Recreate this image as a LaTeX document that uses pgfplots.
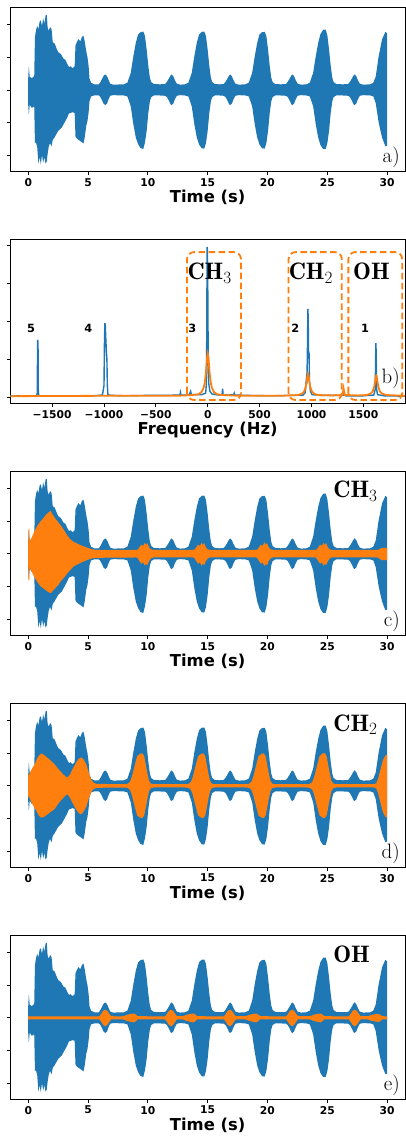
\documentclass[border=0pt]{standalone}
\usepackage{pgfplots}
\pgfplotsset{compat=1.18}
\usepgfplotslibrary{fillbetween}
\usepackage{pgfplotstable}
\usepackage{fontspec}
\newfontfamily\dvs{DejaVu Sans}
\definecolor{tabblue}{HTML}{1F77B4}
\definecolor{taborange}{HTML}{FF7F0E}

% blue: full measured signal (envelope: upper / lower)
\pgfplotstableread{
t up lo
0.00 0.37 -0.48
0.05 0.73 -0.77
0.12 0.40 -0.45
0.30 0.36 -0.55
0.50 0.42 -0.50
0.56 1.60 -1.62
0.65 1.82 -1.60
0.75 1.95 -1.75
0.85 1.85 -2.25
0.95 2.08 -2.05
1.05 2.12 -2.27
1.15 1.95 -1.98
1.25 2.18 -2.22
1.35 2.02 -2.05
1.45 2.27 -2.25
1.55 2.29 -2.18
1.62 1.90 -1.95
1.72 1.80 -1.72
1.82 1.92 -1.62
1.95 1.85 -1.72
2.05 1.45 -1.52
2.20 1.42 -1.45
2.35 1.28 -1.35
2.50 1.15 -1.25
2.65 1.12 -1.20
2.80 1.05 -1.15
2.95 0.95 -1.05
3.10 0.92 -0.95
3.25 0.80 -0.85
3.40 0.70 -0.72
3.55 0.72 -0.70
3.70 0.66 -0.68
3.88 0.72 -0.70
3.95 1.35 -1.42
4.05 1.45 -1.48
4.20 1.55 -1.52
4.35 1.48 -1.56
4.50 1.62 -1.60
4.62 1.65 -1.63
4.72 1.48 -1.45
4.85 1.18 -1.10
4.95 1.00 -0.95
5.05 0.72 -0.68
5.12 0.35 -0.35
5.25 0.22 -0.20
5.50 0.17 -0.17
5.90 0.17 -0.17
6.00 0.22 -0.20
6.15 0.32 -0.30
6.30 0.43 -0.42
6.44 0.47 -0.46
6.58 0.42 -0.42
6.72 0.30 -0.28
6.85 0.19 -0.18
7.10 0.16 -0.16
8.00 0.17 -0.17
8.29 0.22 -0.20
8.57 0.52 -0.50
8.79 1.03 -1.05
8.99 1.43 -1.45
9.18 1.69 -1.65
9.40 1.76 -1.78
9.62 1.78 -1.80
9.76 1.64 -1.60
9.90 1.23 -1.25
10.04 0.73 -0.70
10.17 0.37 -0.35
10.28 0.24 -0.22
10.50 0.18 -0.17
11.00 0.17 -0.17
11.45 0.18 -0.18
11.60 0.25 -0.22
11.75 0.34 -0.32
11.90 0.44 -0.44
11.98 0.47 -0.46
12.12 0.42 -0.42
12.27 0.29 -0.28
12.42 0.19 -0.18
12.70 0.16 -0.16
13.10 0.17 -0.17
13.39 0.22 -0.20
13.67 0.52 -0.50
13.89 1.03 -1.05
14.09 1.43 -1.45
14.28 1.69 -1.66
14.50 1.77 -1.78
14.72 1.78 -1.79
14.86 1.64 -1.62
15.00 1.23 -1.25
15.14 0.73 -0.70
15.27 0.37 -0.35
15.38 0.24 -0.22
15.60 0.18 -0.17
16.00 0.17 -0.17
16.35 0.18 -0.18
16.50 0.25 -0.22
16.65 0.34 -0.32
16.80 0.44 -0.44
16.88 0.47 -0.46
17.02 0.42 -0.42
17.17 0.29 -0.28
17.32 0.19 -0.18
17.60 0.16 -0.16
18.15 0.17 -0.17
18.44 0.22 -0.20
18.72 0.52 -0.50
18.94 1.03 -1.05
19.14 1.43 -1.45
19.33 1.69 -1.66
19.55 1.76 -1.78
19.77 1.77 -1.79
19.91 1.64 -1.62
20.05 1.23 -1.25
20.19 0.73 -0.70
20.32 0.37 -0.35
20.43 0.24 -0.22
20.65 0.18 -0.17
21.10 0.17 -0.17
21.55 0.18 -0.18
21.70 0.25 -0.22
21.85 0.34 -0.32
22.00 0.44 -0.44
22.08 0.47 -0.46
22.22 0.42 -0.42
22.37 0.29 -0.28
22.52 0.19 -0.18
22.80 0.16 -0.16
23.25 0.17 -0.17
23.54 0.22 -0.20
23.82 0.52 -0.50
24.04 1.03 -1.05
24.24 1.43 -1.45
24.43 1.70 -1.68
24.65 1.83 -1.80
24.87 1.84 -1.80
25.01 1.66 -1.62
25.15 1.23 -1.25
25.29 0.73 -0.70
25.42 0.37 -0.35
25.53 0.24 -0.22
25.75 0.18 -0.17
26.30 0.17 -0.17
26.75 0.18 -0.18
26.90 0.25 -0.22
27.05 0.34 -0.32
27.20 0.44 -0.44
27.28 0.47 -0.46
27.42 0.42 -0.42
27.57 0.29 -0.28
27.72 0.19 -0.18
28.00 0.16 -0.16
28.60 0.17 -0.17
28.85 0.22 -0.20
29.05 0.40 -0.40
29.30 1.03 -1.00
29.58 1.54 -1.45
29.86 1.77 -1.72
30.00 1.72 -1.70
}\bluesig

% orange, CH3 component
\pgfplotstableread{
t up lo
0.00 0.35 -0.40
0.02 0.75 -0.80
0.09 0.75 -0.80
0.11 0.40 -0.42
0.30 0.50 -0.55
0.50 0.68 -0.70
0.75 0.85 -0.85
1.00 0.98 -0.98
1.25 1.08 -1.05
1.50 1.20 -1.12
1.75 1.28 -1.18
1.88 1.31 -1.20
2.00 1.22 -1.15
2.25 1.08 -1.05
2.50 0.97 -0.95
2.75 0.85 -0.82
3.00 0.72 -0.72
3.25 0.57 -0.60
3.50 0.45 -0.50
3.75 0.38 -0.40
4.00 0.33 -0.34
4.35 0.27 -0.28
4.70 0.22 -0.22
5.00 0.18 -0.18
5.30 0.14 -0.14
5.70 0.12 -0.12
9.05 0.12 -0.11
9.15 0.13 -0.13
9.30 0.20 -0.22
9.45 0.28 -0.30
9.60 0.24 -0.26
9.75 0.34 -0.36
9.85 0.27 -0.30
9.95 0.33 -0.35
10.10 0.20 -0.22
10.25 0.14 -0.14
10.45 0.12 -0.11
13.80 0.12 -0.11
13.90 0.13 -0.13
14.05 0.20 -0.22
14.20 0.28 -0.30
14.35 0.24 -0.26
14.50 0.34 -0.36
14.60 0.27 -0.30
14.70 0.33 -0.35
14.85 0.20 -0.22
15.00 0.14 -0.14
15.20 0.12 -0.11
19.05 0.12 -0.11
19.15 0.13 -0.13
19.30 0.20 -0.22
19.45 0.28 -0.30
19.60 0.24 -0.26
19.75 0.36 -0.37
19.85 0.27 -0.30
19.95 0.33 -0.35
20.10 0.20 -0.22
20.25 0.14 -0.14
20.45 0.12 -0.11
24.00 0.12 -0.11
24.10 0.13 -0.13
24.25 0.20 -0.22
24.40 0.28 -0.30
24.55 0.24 -0.26
24.70 0.34 -0.36
24.80 0.27 -0.30
24.90 0.33 -0.35
25.05 0.20 -0.22
25.20 0.14 -0.14
25.40 0.12 -0.11
29.20 0.12 -0.11
29.30 0.13 -0.13
29.45 0.16 -0.17
29.60 0.19 -0.20
29.75 0.17 -0.18
29.88 0.19 -0.20
30.00 0.17 -0.18
}\orchthree

% orange, CH2 component
\pgfplotstableread{
t up lo
0.00 0.38 -0.35
0.03 0.30 -0.30
0.20 0.45 -0.45
0.40 0.58 -0.60
0.55 0.66 -0.68
0.70 0.80 -0.78
0.85 0.90 -0.88
1.00 0.96 -0.95
1.10 0.99 -0.97
1.30 0.95 -0.95
1.50 0.89 -0.90
1.85 0.78 -0.80
2.20 0.66 -0.71
2.55 0.50 -0.52
2.90 0.36 -0.38
3.15 0.28 -0.28
3.30 0.26 -0.26
3.50 0.35 -0.37
3.70 0.51 -0.52
4.00 0.70 -0.72
4.20 0.82 -0.82
4.40 0.87 -0.87
4.60 0.82 -0.80
4.85 0.66 -0.64
5.05 0.42 -0.40
5.25 0.20 -0.20
5.45 0.10 -0.10
5.70 0.06 -0.06
8.00 0.05 -0.05
8.30 0.06 -0.06
8.50 0.12 -0.12
8.65 0.26 -0.26
8.85 0.55 -0.56
9.10 0.90 -0.90
9.35 0.98 -0.97
9.55 0.99 -0.98
9.70 0.90 -0.90
9.82 0.66 -0.68
9.95 0.40 -0.42
10.10 0.15 -0.16
10.25 0.07 -0.07
10.50 0.05 -0.05
13.10 0.05 -0.05
13.40 0.06 -0.06
13.60 0.12 -0.12
13.75 0.26 -0.26
13.95 0.55 -0.56
14.20 0.90 -0.90
14.45 0.98 -0.97
14.65 0.99 -0.98
14.80 0.90 -0.90
14.92 0.66 -0.68
15.05 0.40 -0.42
15.20 0.15 -0.16
15.35 0.07 -0.07
15.60 0.05 -0.05
18.15 0.05 -0.05
18.45 0.06 -0.06
18.65 0.12 -0.12
18.80 0.26 -0.26
19.00 0.55 -0.56
19.25 0.90 -0.90
19.50 0.98 -0.97
19.70 0.99 -0.98
19.85 0.90 -0.90
19.97 0.66 -0.68
20.10 0.40 -0.42
20.25 0.15 -0.16
20.40 0.07 -0.07
20.65 0.05 -0.05
23.25 0.05 -0.05
23.55 0.06 -0.06
23.75 0.12 -0.12
23.90 0.26 -0.26
24.10 0.55 -0.56
24.35 0.90 -0.90
24.60 0.99 -0.97
24.80 1.00 -0.98
24.95 0.90 -0.90
25.07 0.66 -0.68
25.20 0.40 -0.42
25.35 0.15 -0.16
25.50 0.07 -0.07
25.75 0.05 -0.05
28.90 0.05 -0.05
29.10 0.08 -0.08
29.25 0.22 -0.22
29.45 0.50 -0.52
29.65 0.78 -0.80
29.85 0.92 -0.94
30.00 0.95 -0.97
}\orchtwo

% orange, OH component
\pgfplotstableread{
t up lo
0.00 0.045 -0.045
5.90 0.045 -0.045
5.95 0.05 -0.05
6.10 0.12 -0.12
6.25 0.21 -0.21
6.44 0.25 -0.26
6.62 0.21 -0.21
6.78 0.12 -0.12
6.93 0.05 -0.05
7.60 0.045 -0.045
7.95 0.05 -0.05
8.25 0.09 -0.09
8.55 0.12 -0.12
8.85 0.13 -0.14
9.00 0.10 -0.10
9.15 0.05 -0.05
11.40 0.045 -0.045
11.45 0.05 -0.05
11.60 0.12 -0.12
11.75 0.21 -0.21
11.94 0.25 -0.26
12.12 0.21 -0.21
12.28 0.12 -0.12
12.43 0.05 -0.05
12.92 0.05 -0.05
13.22 0.09 -0.09
13.52 0.12 -0.12
13.82 0.13 -0.14
13.97 0.10 -0.10
14.12 0.05 -0.05
16.32 0.045 -0.045
16.37 0.05 -0.05
16.52 0.12 -0.12
16.67 0.21 -0.21
16.86 0.25 -0.26
17.04 0.21 -0.21
17.20 0.12 -0.12
17.35 0.05 -0.05
18.18 0.05 -0.05
18.48 0.09 -0.09
18.78 0.12 -0.12
19.08 0.13 -0.14
19.23 0.10 -0.10
19.38 0.05 -0.05
21.52 0.045 -0.045
21.57 0.05 -0.05
21.72 0.12 -0.12
21.87 0.21 -0.21
22.06 0.25 -0.26
22.24 0.21 -0.21
22.40 0.12 -0.12
22.55 0.05 -0.05
23.55 0.05 -0.05
23.85 0.09 -0.09
24.15 0.12 -0.12
24.45 0.13 -0.14
24.60 0.10 -0.10
24.75 0.05 -0.05
26.76 0.045 -0.045
26.81 0.05 -0.05
26.96 0.12 -0.12
27.11 0.21 -0.21
27.30 0.25 -0.26
27.48 0.21 -0.21
27.64 0.12 -0.12
27.79 0.05 -0.05
28.40 0.05 -0.05
28.70 0.09 -0.09
29.00 0.11 -0.11
29.30 0.12 -0.13
29.45 0.09 -0.09
29.60 0.05 -0.05
30.00 0.045 -0.045
}\oroh

% spectrum, full signal
\pgfplotstableread{
f a
-1903 0.02
-1800 0.03
-1700 0.02
-1652 0.03
-1643 0.10
-1640 1.51
-1636 1.45
-1633 0.12
-1627 0.03
-1500 0.02
-1300 0.03
-1100 0.03
-1015 0.05
-1000 0.30
-995 1.60
-991 1.95
-987 1.85
-982 1.50
-977 1.20
-972 1.00
-968 0.30
-962 0.05
-900 0.04
-800 0.03
-600 0.04
-400 0.04
-300 0.05
-268 0.05
-263 0.12
-258 0.05
-180 0.05
-165 0.15
-158 0.06
-60 0.06
-20 0.10
-12 0.40
-6 3.97
-3 3.85
0 3.00
4 1.20
10 0.35
20 0.15
40 0.08
100 0.05
138 0.06
143 0.22
148 0.06
200 0.05
250 0.06
255 0.10
260 0.05
400 0.04
600 0.03
800 0.04
920 0.05
940 0.12
950 0.45
955 0.35
960 1.10
965 2.33
968 2.10
972 1.05
976 1.20
980 0.40
990 0.15
1005 0.06
1100 0.04
1300 0.04
1320 0.07
1330 0.03
1500 0.03
1600 0.05
1614 0.20
1620 1.42
1623 1.20
1627 0.20
1637 0.06
1700 0.03
1901 0.02
}\specfull

% spectrum, filtered components
\pgfplotstableread{
f a
-1903 0.02
-1000 0.03
-300 0.03
-150 0.05
-90 0.07
-60 0.13
-40 0.24
-30 0.36
-20 0.58
-15 0.74
-10 0.92
-5 1.08
0 1.15
5 1.08
10 0.92
15 0.74
20 0.58
30 0.36
40 0.24
60 0.13
90 0.07
150 0.05
300 0.03
700 0.03
870 0.05
910 0.09
930 0.15
945 0.28
955 0.45
960 0.55
966 0.61
972 0.55
977 0.45
987 0.28
1002 0.15
1022 0.09
1060 0.05
1200 0.04
1295 0.05
1303 0.12
1309 0.22
1315 0.12
1323 0.05
1450 0.04
1530 0.05
1570 0.09
1590 0.15
1605 0.28
1615 0.45
1620 0.55
1624 0.57
1628 0.55
1633 0.45
1643 0.28
1658 0.15
1678 0.09
1720 0.05
1901 0.03
}\specfilt

\pgfplotsset{
  base/.style={
    scale only axis, width=396bp, height=164.5bp,
    anchor=north west,
    axis line style={black, line width=0.8bp},
    tick align=outside, tick pos=left,
    major tick length=3.5bp,
    tick style={black, line width=0.8bp},
    yticklabels={},
    tick label style={font=\dvs\bfseries\fontsize{10.8}{12}\selectfont},
    label style={font=\dvs\bfseries\fontsize{16.5}{18}\selectfont},
    xlabel style={yshift=3bp},
  },
  timeax/.style={base, xmin=-1.5, xmax=31.5, ymin=-2.48, ymax=2.52,
    xtick={0,5,...,30}, xticklabels={0,5,10,15,20,25,30},
    ytick={-2,-1,0,1,2}, xlabel={Time (s)}},
}
\tikzset{
  panlab/.style={anchor=base east, font=\fontsize{21}{24}\selectfont, inner sep=0pt},
  complab/.style={anchor=base west, font=\fontsize{24}{27}\selectfont, inner sep=0pt},
}

\begin{document}
\begin{tikzpicture}

% a)
\begin{axis}[timeax, at={(9bp,-7.3bp)}]
\addplot[draw=none, name path=au, forget plot] table[x=t,y=up]{\bluesig};
\addplot[draw=none, name path=al, forget plot] table[x=t,y=lo]{\bluesig};
\addplot[fill=tabblue, draw=none] fill between[of=au and al];
\node[panlab] at (rel axis cs:0.987,0.055) {a)};
\end{axis}

% b)
\begin{axis}[base, at={(9bp,-240.05bp)}, xmin=-1903, xmax=1901, ymin=-0.166, ymax=4.17,
  xtick={-1500,-1000,-500,0,500,1000,1500},
  xticklabels={−1500,−1000,−500,0,500,1000,1500},
  ytick={0,1,2,3,4}, xlabel={Frequency (Hz)}]
\addplot[tabblue, line width=1.4bp] table[x=f,y=a]{\specfull};
\addplot[taborange, line width=1.8bp] table[x=f,y=a]{\specfilt};
\draw[taborange, line width=1.8bp, dash pattern=on 6.5bp off 3.5bp, rounded corners=7bp]
  (axis cs:-200,-0.08) rectangle (axis cs:320,3.83);
\draw[taborange, line width=1.8bp, dash pattern=on 6.5bp off 3.5bp, rounded corners=7bp]
  (axis cs:779,-0.08) rectangle (axis cs:1292,3.83);
\draw[taborange, line width=1.8bp, dash pattern=on 6.5bp off 3.5bp, rounded corners=7bp]
  (axis cs:1355,-0.08) rectangle (axis cs:1874,3.83);
\node[complab] at (axis cs:-197,3.11) {$\mathbf{CH}_3$};
\node[complab] at (axis cs:779,3.11) {$\mathbf{CH}_2$};
\node[complab] at (axis cs:1400,3.11) {$\mathbf{OH}$};
\node[font=\dvs\bfseries\fontsize{11.4}{12}\selectfont] at (axis cs:-1702,1.81) {5};
\node[font=\dvs\bfseries\fontsize{11.4}{12}\selectfont] at (axis cs:-1152,1.81) {4};
\node[font=\dvs\bfseries\fontsize{11.4}{12}\selectfont] at (axis cs:-149,1.81) {3};
\node[font=\dvs\bfseries\fontsize{11.4}{12}\selectfont] at (axis cs:843,1.81) {2};
\node[font=\dvs\bfseries\fontsize{11.4}{12}\selectfont] at (axis cs:1516,1.81) {1};
\node[panlab] at (rel axis cs:0.987,0.12) {b)};
\end{axis}

% c)
\begin{axis}[timeax, at={(9bp,-472.8bp)}]
\addplot[draw=none, name path=cu, forget plot] table[x=t,y=up]{\bluesig};
\addplot[draw=none, name path=cl, forget plot] table[x=t,y=lo]{\bluesig};
\addplot[fill=tabblue, draw=none] fill between[of=cu and cl];
\addplot[draw=none, name path=cou, forget plot] table[x=t,y=up]{\orchthree};
\addplot[draw=none, name path=col, forget plot] table[x=t,y=lo]{\orchthree};
\addplot[fill=taborange, draw=none] fill between[of=cou and col];
\node[complab] at (rel axis cs:0.818,0.837) {$\mathbf{CH}_3$};
\node[panlab] at (rel axis cs:0.987,0.055) {c)};
\end{axis}

% d)
\begin{axis}[timeax, at={(9bp,-705.55bp)}]
\addplot[draw=none, name path=du, forget plot] table[x=t,y=up]{\bluesig};
\addplot[draw=none, name path=dl, forget plot] table[x=t,y=lo]{\bluesig};
\addplot[fill=tabblue, draw=none] fill between[of=du and dl];
\addplot[draw=none, name path=dou, forget plot] table[x=t,y=up]{\orchtwo};
\addplot[draw=none, name path=dol, forget plot] table[x=t,y=lo]{\orchtwo};
\addplot[fill=taborange, draw=none] fill between[of=dou and dol];
\node[complab] at (rel axis cs:0.818,0.829) {$\mathbf{CH}_2$};
\node[panlab] at (rel axis cs:0.987,0.055) {d)};
\end{axis}

% e)
\begin{axis}[timeax, at={(9bp,-938.3bp)}]
\addplot[draw=none, name path=eu, forget plot] table[x=t,y=up]{\bluesig};
\addplot[draw=none, name path=el, forget plot] table[x=t,y=lo]{\bluesig};
\addplot[fill=tabblue, draw=none] fill between[of=eu and el];
\addplot[draw=none, name path=eou, forget plot] table[x=t,y=up]{\oroh};
\addplot[draw=none, name path=eol, forget plot] table[x=t,y=lo]{\oroh};
\addplot[fill=taborange, draw=none] fill between[of=eou and eol];
\node[complab] at (rel axis cs:0.818,0.834) {$\mathbf{OH}$};
\node[panlab] at (rel axis cs:0.987,0.055) {e)};
\end{axis}

\path (0,0) rectangle (406bp,-1136bp);
\end{tikzpicture}
\end{document}
